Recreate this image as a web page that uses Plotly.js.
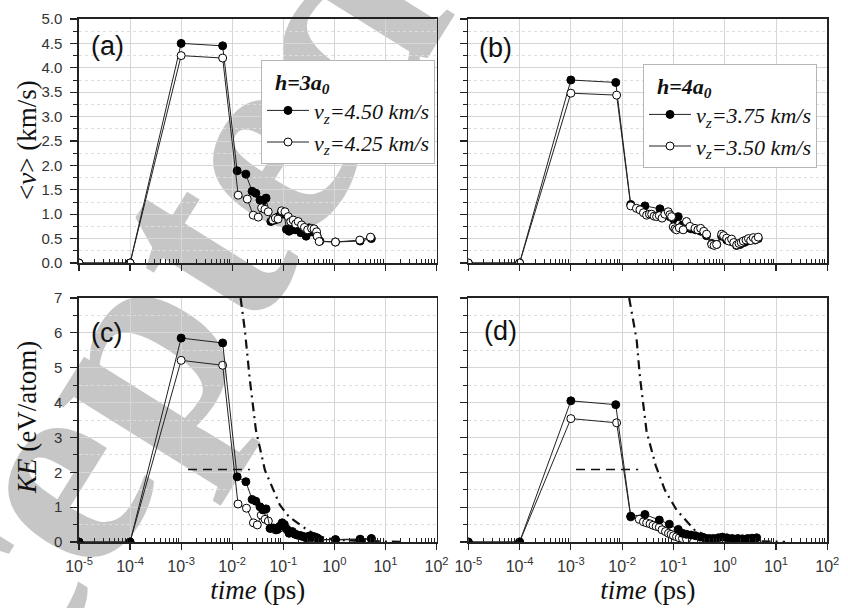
<!DOCTYPE html>
<html>
<head>
<meta charset="utf-8">
<script src="https://cdn.plot.ly/plotly-3.0.1.min.js"></script>
<style>html,body{margin:0;padding:0;background:#fff;}#chart{width:848px;height:608px;}</style>
</head>
<body>
<div id="chart"></div>
<script>
// ---------- DATA ----------
// x tick positions / labels (time, ps, log scale)
const tickVals = [1e-5, 1e-4, 1e-3, 1e-2, 1e-1, 1e0, 1e1, 1e2];
const tickText = ['10<sup>-5</sup>', '10<sup>-4</sup>', '10<sup>-3</sup>', '10<sup>-2</sup>',
                  '10<sup>-1</sup>', '10<sup>0</sup>', '10<sup>1</sup>', '10<sup>2</sup>'];

// (a) h = 3a0, <v> (km/s)
const tA450 = [1e-5, 1e-4, 1e-3, 0.0065, 0.0125, 0.0185, 0.0245, 0.029, 0.035, 0.040, 0.046, 0.057, 0.068, 0.080, 0.092, 0.104, 0.115, 0.13, 0.15, 0.17, 0.19, 0.22, 0.25, 0.28, 0.32, 0.36, 0.41, 0.46, 0.52, 1.05, 3.2, 5.3];
const vA450 = [0, 0, 4.50, 4.45, 1.89, 1.82, 1.47, 1.43, 1.29, 1.27, 1.33, 0.85, 0.88, 0.95, 1.05, 1.00, 0.69, 0.65, 0.78, 0.68, 0.75, 0.62, 0.70, 0.55, 0.72, 0.64, 0.68, 0.55, 0.45, 0.43, 0.45, 0.50];
const tA425 = [1e-5, 1e-4, 1e-3, 0.0065, 0.0131, 0.0197, 0.0258, 0.0323, 0.0376, 0.0437, 0.0507, 0.062, 0.070, 0.079, 0.093, 0.108, 0.125, 0.140, 0.156, 0.175, 0.196, 0.228, 0.26, 0.30, 0.358, 0.40, 0.449, 0.461, 0.505, 1.05, 3.15, 5.1];
const vA425 = [0, 0, 4.25, 4.20, 1.39, 1.31, 0.98, 0.94, 1.13, 1.10, 1.05, 0.88, 0.92, 0.90, 1.07, 1.05, 0.95, 0.85, 0.88, 0.80, 0.85, 0.78, 0.73, 0.68, 0.71, 0.70, 0.64, 0.55, 0.44, 0.43, 0.47, 0.53];

// (b) h = 4a0, <v> (km/s)
const tB375 = [1e-5, 1e-4, 1e-3, 0.0075, 0.0147, 0.0278, 0.0546, 0.07, 0.085, 0.10, 0.124, 0.15, 0.18, 0.22, 0.27, 0.34, 0.44, 0.56, 0.70, 0.87, 1.09, 1.36, 1.7, 2.0, 2.4, 2.8, 3.3, 3.9, 4.5];
const vB375 = [0, 0, 3.75, 3.70, 1.20, 1.17, 1.11, 1.00, 0.95, 0.90, 0.95, 0.78, 0.72, 0.70, 0.68, 0.65, 0.56, 0.40, 0.38, 0.55, 0.47, 0.44, 0.36, 0.38, 0.42, 0.45, 0.48, 0.47, 0.50];
const tB350 = [1e-5, 1e-4, 1e-3, 0.0078, 0.0147, 0.019, 0.0222, 0.026, 0.030, 0.034, 0.0376, 0.042, 0.047, 0.053, 0.060, 0.068, 0.079, 0.0855, 0.092, 0.099, 0.107, 0.115, 0.13, 0.155, 0.18, 0.21, 0.263, 0.30, 0.339, 0.39, 0.443, 0.556, 0.62, 0.695, 0.87, 0.95, 1.09, 1.2, 1.36, 1.5, 1.71, 1.9, 2.1, 2.3, 2.6, 2.9, 3.2, 3.6, 4.0, 4.5];
const vB350 = [0, 0, 3.48, 3.44, 1.17, 1.12, 1.09, 1.03, 0.98, 1.00, 1.00, 0.96, 0.95, 0.97, 0.92, 1.00, 1.05, 0.99, 0.95, 0.74, 0.70, 0.68, 0.72, 0.68, 0.85, 0.75, 0.71, 0.68, 0.71, 0.65, 0.59, 0.38, 0.36, 0.38, 0.59, 0.56, 0.51, 0.45, 0.49, 0.42, 0.37, 0.40, 0.42, 0.45, 0.47, 0.50, 0.46, 0.52, 0.48, 0.53];

// (c) h = 3a0, KE (eV/atom)
const tC450 = [1e-5, 1e-4, 1e-3, 0.0065, 0.0125, 0.0185, 0.0245, 0.029, 0.035, 0.040, 0.046, 0.055, 0.065, 0.075, 0.085, 0.095, 0.105, 0.115, 0.13, 0.15, 0.17, 0.19, 0.22, 0.25, 0.28, 0.32, 0.36, 0.41, 0.46, 0.52, 1.05, 3.2, 5.3];
const eC450 = [0, 0, 5.85, 5.71, 1.87, 1.73, 1.22, 1.17, 1.01, 0.92, 0.95, 0.39, 0.40, 0.35, 0.45, 0.55, 0.50, 0.38, 0.25, 0.30, 0.22, 0.20, 0.18, 0.15, 0.12, 0.17, 0.14, 0.15, 0.12, 0.06, 0.07, 0.08, 0.10];
const tC425 = [1e-5, 1e-4, 1e-3, 0.0065, 0.013, 0.019, 0.026, 0.031, 0.037, 0.044, 0.051, 0.06, 0.07, 0.08, 0.09, 0.10, 0.12, 0.14, 0.16, 0.19, 0.22, 0.26, 0.30, 0.36, 0.42, 0.50, 1.05, 3.2, 5.3];
const eC425 = [0, 0, 5.21, 5.07, 1.09, 0.97, 0.55, 0.49, 0.77, 0.65, 0.60, 0.40, 0.35, 0.38, 0.42, 0.50, 0.35, 0.28, 0.25, 0.20, 0.18, 0.15, 0.13, 0.12, 0.10, 0.08, 0.06, 0.07, 0.09];
const tCfit = [0.0146, 0.0177, 0.0222, 0.0291, 0.0437, 0.0857, 0.13, 0.211, 0.30, 0.52, 1.0, 3.0, 10, 20];
const eCfit = [7.0, 6.07, 4.64, 3.21, 2.06, 1.06, 0.72, 0.49, 0.34, 0.15, 0.07, 0.03, 0.01, 0.005];
const tCthr = [0.00136, 0.0222];
const eCthr = [2.08, 2.08];

// (d) h = 4a0, KE (eV/atom)
const tD375 = [1e-5, 1e-4, 1e-3, 0.0075, 0.0147, 0.0278, 0.053, 0.083, 0.124, 0.15, 0.18, 0.22, 0.27, 0.33, 0.40, 0.50, 0.60, 0.75, 0.90, 1.1, 1.4, 1.8, 2.2, 2.8, 3.4, 4.2];
const eD375 = [0, 0, 4.05, 3.94, 0.74, 0.79, 0.63, 0.51, 0.36, 0.25, 0.22, 0.20, 0.18, 0.14, 0.12, 0.10, 0.10, 0.12, 0.14, 0.12, 0.10, 0.10, 0.09, 0.10, 0.11, 0.12];
const tD350 = [1e-5, 1e-4, 1e-3, 0.0078, 0.0147, 0.0215, 0.026, 0.030, 0.035, 0.040, 0.046, 0.053, 0.060, 0.070, 0.080, 0.090, 0.10, 0.115, 0.13, 0.15, 0.18];
const eD350 = [0, 0, 3.54, 3.42, 0.72, 0.65, 0.58, 0.55, 0.52, 0.48, 0.45, 0.42, 0.35, 0.30, 0.25, 0.22, 0.18, 0.15, 0.12, 0.10, 0.08];
const tDfit = [0.0137, 0.0192, 0.0222, 0.030, 0.045, 0.068, 0.115, 0.18, 0.26, 0.50, 1.0, 3.0, 10, 15];
const eDfit = [7.0, 5.79, 4.74, 3.16, 2.20, 1.49, 0.92, 0.60, 0.34, 0.15, 0.07, 0.03, 0.01, 0.005];
const tDthr = [0.00126, 0.0206];
const eDthr = [2.08, 2.08];

// legend / label text
const nameA1 = '<i>v<sub>z</sub>=4.50 km/s</i>';
const nameA2 = '<i>v<sub>z</sub>=4.25 km/s</i>';
const nameB1 = '<i>v<sub>z</sub>=3.75 km/s</i>';
const nameB2 = '<i>v<sub>z</sub>=3.50 km/s</i>';
const titleA = '<b><i>h=3a<sub>0</sub></i></b>';
const titleB = '<b><i>h=4a<sub>0</sub></i></b>';
const yTitleTop = '&lt;<i>v</i>&gt; (km/s)';
const yTitleBottom = '<i>KE</i> (eV/atom)';
const xTitle = '<i>time</i> (ps)';

// ---------- STYLE ----------
const W = 848, H = 608;
const px = v => v / W;
const py = v => 1 - v / H;
const serif = '"Liberation Serif", "Times New Roman", serif';
const sans = '"Liberation Sans", Arial, sans-serif';

const filled = {size: 8, color: '#000', line: {color: '#000', width: 1}};
const open = {size: 8, color: '#fff', line: {color: '#000', width: 1}};
const ln = {color: '#222', width: 1};

function series(x, y, xa, ya, marker, name, legend, show) {
  return {x: x, y: y, xaxis: xa, yaxis: ya, type: 'scatter', mode: 'lines+markers',
          line: ln, marker: marker, name: name, legend: legend, showlegend: show,
          hoverinfo: 'x+y'};
}
function guide(x, y, xa, ya, dash, w) {
  return {x: x, y: y, xaxis: xa, yaxis: ya, type: 'scatter', mode: 'lines',
          line: {color: '#111', width: w, dash: dash}, showlegend: false, hoverinfo: 'skip'};
}

const dashDot = '9px,5px,2px,5px';
const dashed = '9px,6px';

const traces = [
  series(tA450, vA450, 'x', 'y', filled, nameA1, 'legend', true),
  series(tA425, vA425, 'x', 'y', open, nameA2, 'legend', true),
  series(tB375, vB375, 'x2', 'y2', filled, nameB1, 'legend2', true),
  series(tB350, vB350, 'x2', 'y2', open, nameB2, 'legend2', true),
  guide(tCthr, eCthr, 'x3', 'y3', dashed, 1.6),
  guide(tCfit, eCfit, 'x3', 'y3', dashDot, 2.2),
  series(tC425, eC425, 'x3', 'y3', open, nameA2, 'legend', false),
  series(tC450, eC450, 'x3', 'y3', filled, nameA1, 'legend', false),
  guide(tDthr, eDthr, 'x4', 'y4', dashed, 1.6),
  guide(tDfit, eDfit, 'x4', 'y4', dashDot, 2.2),
  series(tD350, eD350, 'x4', 'y4', open, nameB2, 'legend2', false),
  series(tD375, eD375, 'x4', 'y4', filled, nameB1, 'legend2', false)
];

const minorX = [];
for (let d = -5; d < 2; d++) for (let k = 2; k <= 9; k++) minorX.push(k * Math.pow(10, d));

function xAxis(domain, anchor, labels, title) {
  const ax = {
    type: 'log', range: [-5, 2], domain: domain, anchor: anchor,
    tickmode: 'array', tickvals: tickVals, ticktext: tickText,
    showticklabels: labels, ticks: 'outside', ticklen: 6, tickwidth: 1.2, tickcolor: '#222',
    ticklabelstandoff: 3,
    tickfont: {family: sans, size: 16, color: '#333'},
    showline: true, mirror: true, linecolor: '#222', linewidth: 1.6,
    showgrid: true, gridcolor: '#d6d6d6', gridwidth: 1, zeroline: false,
    minor: {tickmode: 'array', tickvals: minorX, ticks: 'inside', ticklen: 4, tickcolor: '#222', tickwidth: 1, showgrid: false},
    automargin: false
  };
  if (title) ax.title = {text: xTitle, font: {family: serif, size: 27, color: '#111'}, standoff: 6};
  return ax;
}
function yAxis(domain, anchor, top, step, labels) {
  return {
    range: [0, top], domain: domain, anchor: anchor, dtick: step, tick0: 0,
    tickformat: step < 1 ? '.1f' : 'd',
    showticklabels: labels, ticks: 'outside', ticklen: 7, tickwidth: 1.2, tickcolor: '#222',
    ticklabelstandoff: 5,
    tickfont: {family: sans, size: 15, color: '#333'},
    showline: true, mirror: true, linecolor: '#222', linewidth: 1.6,
    showgrid: true, gridcolor: '#d6d6d6', gridwidth: 1, zeroline: false,
    minor: {dtick: step / 2, tick0: 0, ticks: 'outside', ticklen: 4, tickcolor: '#222', tickwidth: 1,
            showgrid: true, gridcolor: '#dedede', griddash: 'dot', gridwidth: 1},
    automargin: false
  };
}

const dxL = [px(79), px(436.5)];
const dxR = [px(468.3), px(827.3)];
const dyT = [py(263), py(19)];
const dyB = [py(542), py(298)];

function panelLabel(text, x, y) {
  return {text: text, xref: 'paper', yref: 'paper', x: px(x), y: py(y), xanchor: 'center', yanchor: 'middle',
          showarrow: false, font: {family: sans, size: 27, color: '#111'}};
}
function yTitle(text, x, y) {
  return {text: text, xref: 'paper', yref: 'paper', x: px(x), y: py(y), xanchor: 'center', yanchor: 'middle',
          textangle: -90, showarrow: false, font: {family: serif, size: 27, color: '#111'}};
}

const legendBase = {
  xanchor: 'left', yanchor: 'top', bgcolor: '#fff', bordercolor: '#b5b5b5', borderwidth: 1,
  font: {family: serif, size: 22, color: '#111'}, itemwidth: 42, tracegroupgap: 0
};

const wmX = 44, wmY = 428;   // watermark centre, px

const layout = {
  width: W, height: H,
  margin: {l: 0, r: 0, t: 0, b: 0},
  paper_bgcolor: '#fff', plot_bgcolor: 'rgba(0,0,0,0)',
  font: {family: serif},
  showlegend: true,
  xaxis: xAxis(dxL, 'y', false, false),
  yaxis: yAxis(dyT, 'x', 5, 0.5, true),
  xaxis2: xAxis(dxR, 'y2', false, false),
  yaxis2: yAxis(dyT, 'x2', 5, 0.5, false),
  xaxis3: xAxis(dxL, 'y3', true, true),
  yaxis3: yAxis(dyB, 'x3', 7, 1, true),
  xaxis4: xAxis(dxR, 'y4', true, true),
  yaxis4: yAxis(dyB, 'x4', 7, 1, false),
  legend: Object.assign({}, legendBase, {x: px(261), y: py(60),
          title: {text: '&nbsp;&nbsp;' + titleA, font: {family: serif, size: 22, color: '#111'}}}),
  legend2: Object.assign({}, legendBase, {x: px(643), y: py(64),
          title: {text: '&nbsp;&nbsp;' + titleB, font: {family: serif, size: 22, color: '#111'}}}),
  annotations: [
    panelLabel('(a)', 107, 46),
    panelLabel('(b)', 495, 48),
    panelLabel('(c)', 106, 333),
    panelLabel('(d)', 500, 331),
    yTitle(yTitleTop, 27, 140),
    yTitle(yTitleBottom, 27, 418)
  ],
  shapes: [{
    type: 'rect', xref: 'paper', yref: 'paper',
    x0: px(wmX) - 0.05, x1: px(wmX) + 0.05, y0: py(wmY) - 0.05, y1: py(wmY) + 0.05,
    layer: 'below', line: {width: 0}, fillcolor: 'rgba(0,0,0,0)',
    label: {text: '<b>Accepted</b>', textangle: -58, textposition: 'middle center',
            font: {family: serif, size: 290, color: '#c6c6c6', weight: 'bold'}}
  }]
};

Plotly.newPlot('chart', traces, layout, {displayModeBar: false, staticPlot: true});
</script>
</body>
</html>
